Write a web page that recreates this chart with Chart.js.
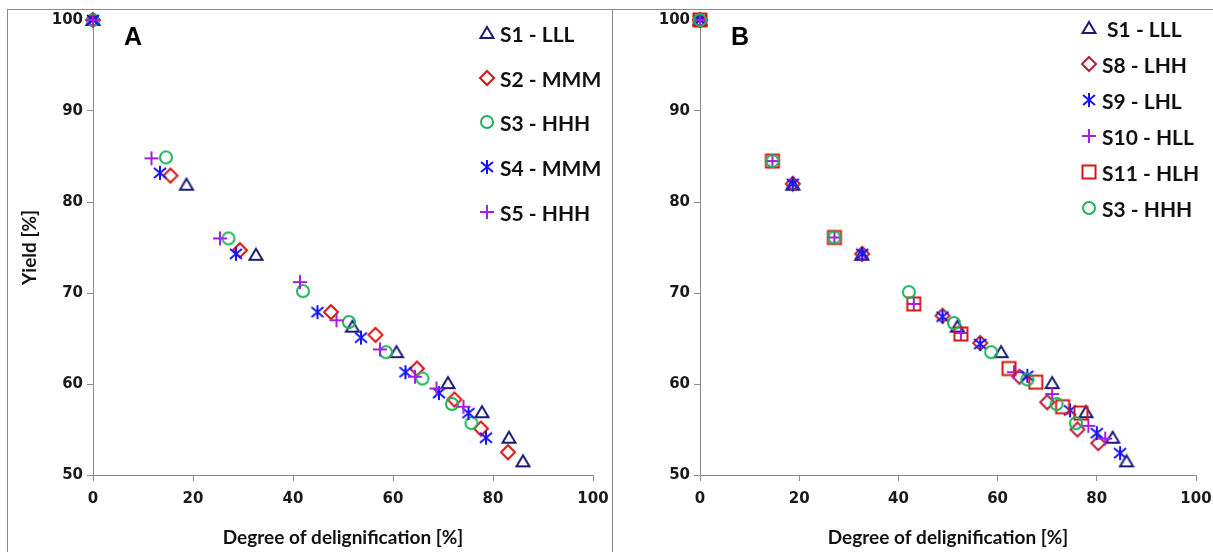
<!DOCTYPE html>
<html>
<head>
<meta charset="utf-8">
<title>Yield vs delignification</title>
<script src="https://cdn.jsdelivr.net/npm/chart.js@4.4.1/dist/chart.umd.min.js"></script>
<style>
  body { margin: 0; background: #fff; }
  #page { position: relative; width: 1213px; height: 552px; overflow: hidden; }
  .line { position: absolute; background: #8a8a8a; }
  canvas.plot { position: absolute; top: 0; }
  .letter { position: absolute; font: bold 25px "Liberation Sans", Arial, sans-serif; color: #000; }
  .item { position: absolute; height: 24px; }
  .item canvas { position: absolute; left: 0; top: 3px; }
  .item span { position: absolute; left: 22px; top: 0; line-height: 24px; white-space: pre;
               font: bold 21px Lato, sans-serif; color: #111; }
</style>
</head>
<body>
<div id="page">
  <div class="line" style="left:7px;top:9px;width:1206px;height:1px"></div>
  <div class="line" style="left:7px;top:9px;width:1px;height:543px"></div>
  <div class="line" style="left:612px;top:9px;width:1px;height:543px"></div>
  <canvas id="chartA" class="plot" width="612" height="552" style="left:0"></canvas>
  <canvas id="chartB" class="plot" width="600" height="552" style="left:613px"></canvas>
  <div class="letter" style="left:124px;top:22px">A</div>
  <div class="letter" style="left:731px;top:22px">B</div>
  <div id="legendA"></div>
  <div id="legendB"></div>
</div>
<script>
// tick values
const xTicks = [0, 20, 40, 60, 80, 100];
const yTicks = [50, 60, 70, 80, 90, 100];

// panel A: degree of delignification [%] / yield [%]
const s1X = [0, 18.7, 32.6, 51.9, 60.7, 71.0, 77.8, 83.2, 86.0];
const s1Y = [100, 81.9, 74.2, 66.3, 63.5, 60.1, 56.9, 54.1, 51.5];
const s2X = [0, 15.5, 29.4, 47.6, 56.5, 64.8, 72.3, 77.6, 83.0];
const s2Y = [100, 82.9, 74.7, 67.9, 65.4, 61.7, 58.3, 55.1, 52.5];
const s3X = [0, 14.6, 27.1, 42.0, 51.2, 58.6, 65.9, 71.8, 75.7];
const s3Y = [100, 84.9, 76.0, 70.2, 66.8, 63.5, 60.6, 57.8, 55.7];
const s4X = [0, 13.4, 28.6, 44.9, 53.6, 62.5, 69.2, 75.1, 78.6];
const s4Y = [100, 83.2, 74.3, 67.9, 65.1, 61.3, 59.0, 56.8, 54.1];
const s5X = [0, 11.7, 25.4, 41.4, 48.7, 57.4, 64.4, 68.7, 74.1];
const s5Y = [100, 84.8, 76.0, 71.2, 67.0, 63.8, 60.8, 59.5, 57.5];

// panel B
const s8X = [0, 18.7, 32.7, 48.9, 56.5, 64.4, 70.0, 76.1, 80.3];
const s8Y = [100, 82.0, 74.3, 67.5, 64.5, 60.8, 58.0, 55.0, 53.5];
const s9X = [0, 18.7, 32.7, 48.9, 56.5, 66.0, 74.6, 80.0, 84.7];
const s9Y = [100, 82.0, 74.3, 67.4, 64.4, 60.9, 57.1, 54.6, 52.4];
const s10X = [0, 14.6, 27.1, 43.1, 52.6, 63.3, 71.0, 78.3, 81.7];
const s10Y = [100, 84.5, 76.1, 68.8, 65.6, 61.3, 58.9, 55.4, 54.0];
const s11X = [0, 14.6, 27.1, 43.1, 52.6, 62.3, 67.7, 73.1, 76.8];
const s11Y = [100, 84.5, 76.1, 68.8, 65.5, 61.7, 60.2, 57.5, 56.8];
const s3bX = [0, 14.6, 27.1, 42.1, 51.2, 58.7, 66.0, 71.9, 75.8];
const s3bY = [100, 84.5, 76.1, 70.1, 66.7, 63.5, 60.5, 57.8, 55.7];

const NAVY = '#1b1b73', RED = '#d81414', GREEN = '#1db35a', BLUE = '#1414ff',
      PURPLE = '#a41fe4', MAROON = '#b3203a';

// hollow marker drawn on a small canvas, used as pointStyle and in the legends
function makeMarker(style, color) {
  const c = document.createElement('canvas');
  c.width = 18; c.height = 18;
  const g = c.getContext('2d');
  const m = 9;
  g.strokeStyle = color;
  g.lineWidth = 2;
  g.beginPath();
  if (style === 'triangle') {
    g.moveTo(m, m - 6); g.lineTo(m + 6.5, m + 5); g.lineTo(m - 6.5, m + 5); g.closePath();
  } else if (style === 'diamond') {
    g.moveTo(m, m - 7); g.lineTo(m + 7, m); g.lineTo(m, m + 7); g.lineTo(m - 7, m); g.closePath();
  } else if (style === 'circle') {
    g.arc(m, m, 6, 0, Math.PI * 2);
  } else if (style === 'asterisk') {
    g.moveTo(m, m - 7); g.lineTo(m, m + 7);
    g.moveTo(m - 6, m - 5); g.lineTo(m + 6, m + 5);
    g.moveTo(m + 6, m - 5); g.lineTo(m - 6, m + 5);
  } else if (style === 'plus') {
    g.moveTo(m, m - 7); g.lineTo(m, m + 7);
    g.moveTo(m - 7, m); g.lineTo(m + 7, m);
  } else if (style === 'square') {
    g.rect(m - 6.5, m - 6.5, 13, 13);
  }
  g.stroke();
  return c;
}

function pts(xs, ys) {
  return xs.map((x, i) => ({ x: x, y: ys[i] }));
}

function series(label, xs, ys, style, color) {
  return {
    label: label,
    data: pts(xs, ys),
    pointStyle: makeMarker(style, color),
    marker: style,
    borderColor: color,
    backgroundColor: 'transparent',
    showLine: false,
    clip: false
  };
}

const tickFont = { family: 'DejaVu Sans', weight: 'bold', size: 15 };
const titleFont = { family: 'Lato', weight: 'bold', size: 19 };

function scales(yWidth, yTitle) {
  return {
    x: {
      type: 'linear', min: 0, max: 100,
      afterBuildTicks: s => { s.ticks = xTicks.map(v => ({ value: v })); },
      ticks: { color: '#1a1a1a', font: tickFont, padding: 9, maxRotation: 0 },
      grid: { drawOnChartArea: false, tickLength: 6, color: '#8a8a8a' },
      border: { color: '#8a8a8a' },
      title: { display: true, text: 'Degree of delignification [%]', color: '#111',
               font: titleFont, padding: { top: 0, bottom: 3 } },
      // fixed box so the plot area lands where the original one is
      afterFit: s => { s.height = 77; s.paddingLeft = 0; s.paddingRight = 0; }
    },
    y: {
      type: 'linear', min: 50, max: 100,
      afterBuildTicks: s => { s.ticks = yTicks.map(v => ({ value: v })); },
      ticks: { color: '#1a1a1a', font: tickFont, padding: 4 },
      grid: { drawOnChartArea: false, tickLength: 6, color: '#8a8a8a' },
      border: { color: '#8a8a8a' },
      title: { display: !!yTitle, text: yTitle || '', color: '#111',
               font: titleFont, padding: { top: 18, bottom: 0 } },
      afterFit: s => { s.width = yWidth; s.paddingTop = 0; s.paddingBottom = 0; }
    }
  };
}

function makeChart(id, datasets, yWidth, yTitle, padRight) {
  return new Chart(document.getElementById(id), {
    type: 'scatter',
    data: { datasets: datasets },
    options: {
      responsive: false,
      animation: false,
      layout: { padding: { left: 0, top: 20, right: padRight, bottom: 0 } },
      elements: { point: { radius: 7, hoverRadius: 7 } },
      plugins: { legend: { display: false }, tooltip: { enabled: false } },
      scales: scales(yWidth, yTitle)
    }
  });
}

const dataA = [
  series('S1 - LLL', s1X, s1Y, 'triangle', NAVY),
  series('S2 - MMM', s2X, s2Y, 'diamond', RED),
  series('S3 - HHH', s3X, s3Y, 'circle', GREEN),
  series('S4 - MMM', s4X, s4Y, 'asterisk', BLUE),
  series('S5 - HHH', s5X, s5Y, 'plus', PURPLE)
];
const dataB = [
  series(' S1 - LLL', s1X, s1Y, 'triangle', NAVY),
  series('S8 - LHH', s8X, s8Y, 'diamond', MAROON),
  series('S9 - LHL', s9X, s9Y, 'asterisk', BLUE),
  series('S10 - HLL', s10X, s10Y, 'plus', PURPLE),
  series('S11 - HLH', s11X, s11Y, 'square', RED),
  series('S3 - HHH', s3bX, s3bY, 'circle', GREEN)
];

makeChart('chartA', dataA.slice().reverse(), 93, 'Yield [%]', 19);
makeChart('chartB', dataB.slice().reverse(), 87, null, 17);

// legends inside the plot area, one column
function legend(id, datasets, left, top, gap) {
  const box = document.getElementById(id);
  datasets.forEach((d, i) => {
    const item = document.createElement('div');
    item.className = 'item';
    item.style.left = (left - 9) + 'px';
    item.style.top = (top + i * gap - 12) + 'px';
    item.appendChild(makeMarker(d.marker, d.borderColor));
    const t = document.createElement('span');
    t.textContent = d.label;
    item.appendChild(t);
    box.appendChild(item);
  });
}
legend('legendA', dataA, 487, 33, 44.7);
legend('legendB', dataB, 1089, 28, 36);
</script>
</body>
</html>
